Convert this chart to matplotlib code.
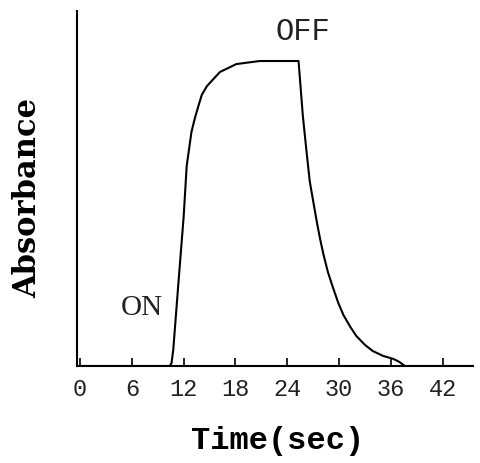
import matplotlib
matplotlib.use("Agg")
import matplotlib.pyplot as plt

# Absorbance response (plateau normalised to 1.0)
time_s = [0, 10.4, 10.6, 10.8, 11.4, 12.0, 12.35, 12.9, 13.3, 13.7, 14.1, 14.7,
          16.2, 18.1, 20.8, 24.3, 25.3, 25.8, 26.2, 26.6, 27.4, 27.8, 28.2,
          28.7, 29.3, 29.9, 30.5, 31.3, 32.0, 33.0, 33.9, 35.1, 36.3, 37.0,
          37.6, 45.5]
absorbance = [0, 0, 0.01, 0.055, 0.275, 0.49, 0.656, 0.767, 0.813, 0.852, 0.889,
              0.918, 0.964, 0.990, 1.0, 1.0, 1.0, 0.82, 0.71, 0.605, 0.475,
              0.416, 0.364, 0.308, 0.256, 0.207, 0.167, 0.128, 0.098, 0.069,
              0.049, 0.033, 0.023, 0.013, 0.0, 0.0]

xticks = [0, 6, 12, 18, 24, 30, 36, 42]

fig = plt.figure(figsize=(4.8, 4.64), dpi=100)
ax = fig.add_axes([77 / 480, 1 - 367 / 464, 396 / 480, 355 / 464])

ax.plot(time_s, absorbance, color="black", lw=1.5, solid_joinstyle="round")

ax.set_xlim(-0.35, 45.5)
ax.set_ylim(0, 1.164)

for side in ["top", "right"]:
    ax.spines[side].set_visible(False)
for side in ["left", "bottom"]:
    ax.spines[side].set_linewidth(1.5)
    ax.spines[side].set_color("black")

ax.set_yticks([])
ax.set_xticks(xticks)
ax.set_xticklabels([str(t) for t in xticks], family="Liberation Mono",
                   fontsize=17, color="#222222")
ax.tick_params(axis="x", direction="in", length=6, width=1.2, pad=8)

ax.text(7.2, 0.193, "ON", family="Liberation Serif", fontsize=21,
        color="#222222", ha="center", va="center")
ax.text(25.8, 1.098, "OFF", family="Liberation Mono", fontsize=22,
        color="#222222", ha="center", va="center")

fig.text(278 / 480, 1 - 441 / 464, "Time(sec)", family="Liberation Mono",
         fontweight="bold", fontsize=23, ha="center", va="center")
fig.text(28 / 480, 1 - 198 / 464, "Absorbance", family="DejaVu Serif",
         fontweight="bold", fontsize=22, rotation=90, ha="center", va="center")

fig.savefig("out.png", dpi=100)
